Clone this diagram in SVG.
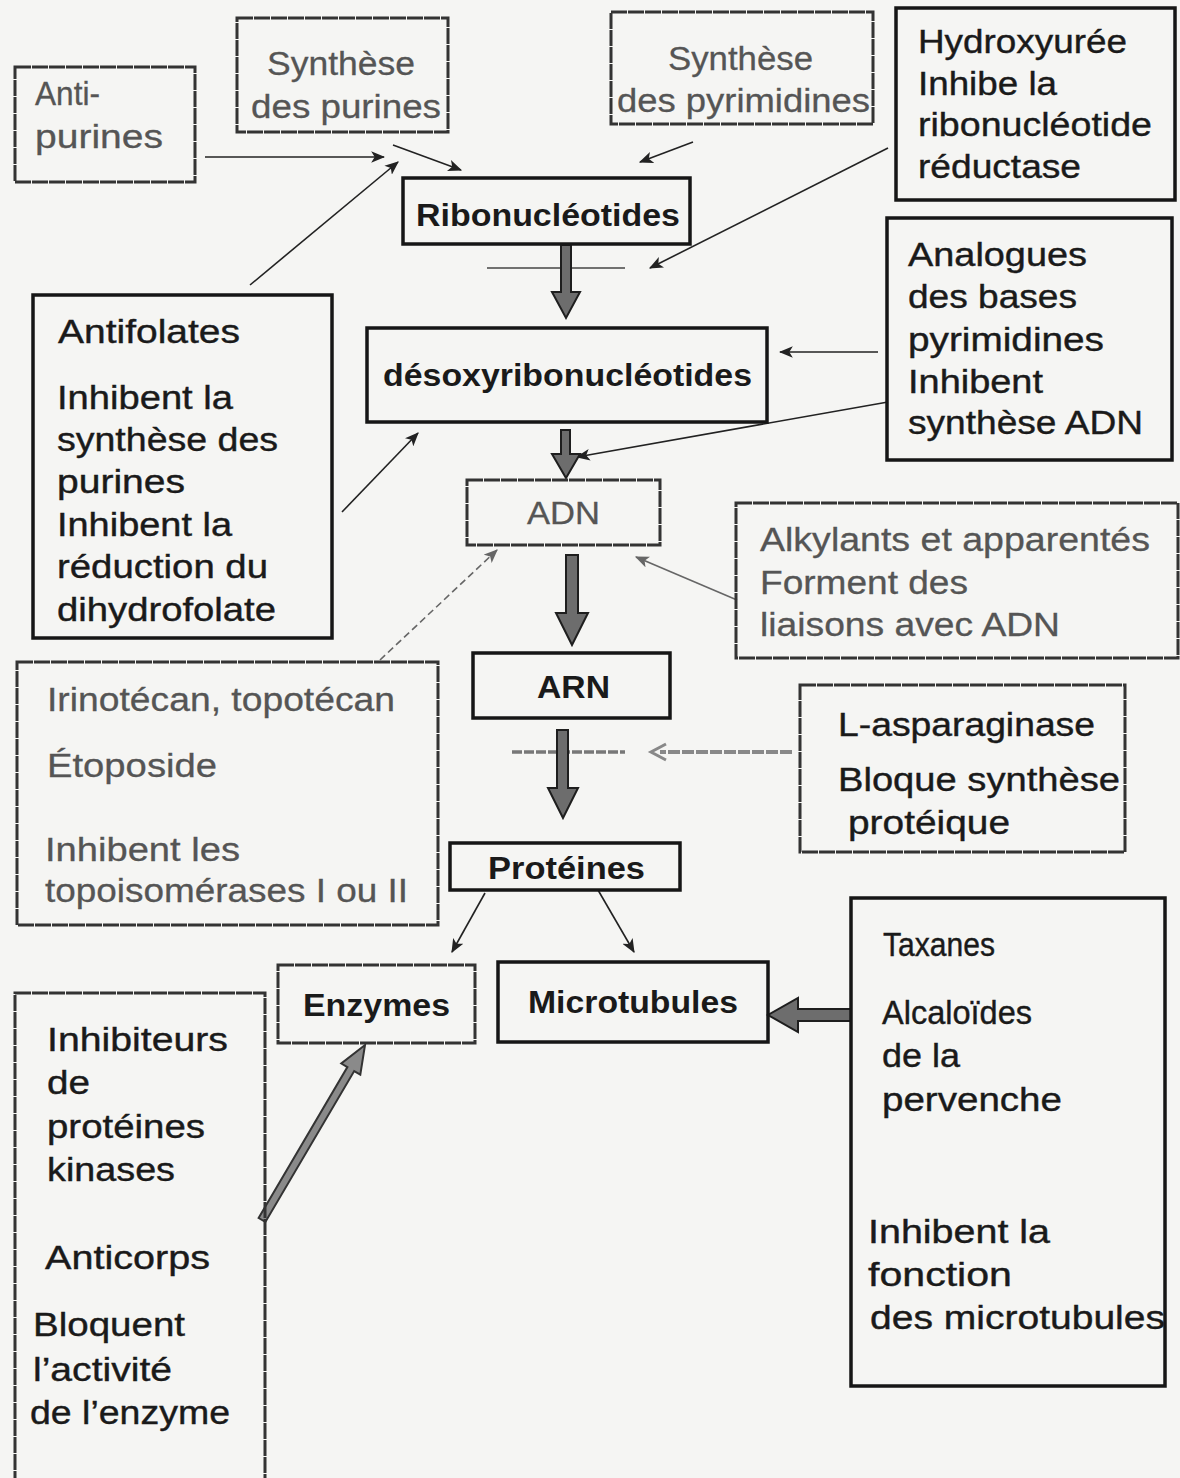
<svg xmlns="http://www.w3.org/2000/svg" width="1180" height="1478" viewBox="0 0 1180 1478">
<defs>
<marker id="ah" viewBox="0 0 12 10" refX="11" refY="5" markerWidth="14" markerHeight="12" markerUnits="userSpaceOnUse" orient="auto"><path d="M0,0 L12,5 L0,10 L3,5 z" fill="#222"/></marker>
<marker id="ahg" viewBox="0 0 12 10" refX="11" refY="5" markerWidth="14" markerHeight="12" markerUnits="userSpaceOnUse" orient="auto"><path d="M0,0 L12,5 L0,10 L3,5 z" fill="#666"/></marker>
<style>
.bd{fill:none;stroke:#161616;stroke-width:3.5}
.bg{fill:none;stroke:#333;stroke-width:3;stroke-dasharray:16 1}
text{font-family:"Liberation Sans",Arial,sans-serif;}
.t{font-size:33px;fill:#1a1a1a;stroke:#1a1a1a;stroke-width:0.4}
.tg{font-size:33px;fill:#555;stroke:#555;stroke-width:0.3}
.tb{font-size:31px;font-weight:bold;fill:#1a1a1a}
.tn{font-size:31px;fill:#555;stroke:#555;stroke-width:0.3}
.thin{fill:none;stroke:#222;stroke-width:1.6}
.thing{fill:none;stroke:#666;stroke-width:1.6}
.big{fill:#6d6d6d;stroke:#1e1e1e;stroke-width:2}
</style>
</defs>
<rect x="0" y="0" width="1180" height="1478" fill="#f5f5f3"/>

<g id="connectors">
<line class="thin" x1="205" y1="157" x2="384" y2="157" marker-end="url(#ah)"/>
<line class="thin" x1="393" y1="145" x2="461" y2="170" marker-end="url(#ah)"/>
<line class="thin" x1="693" y1="142" x2="640" y2="162" marker-end="url(#ah)"/>
<line class="thin" x1="250" y1="285" x2="398" y2="162" marker-end="url(#ah)"/>
<line class="thin" x1="888" y1="148" x2="650" y2="268" marker-end="url(#ah)"/>
<line x1="487" y1="268" x2="625" y2="268" stroke="#444" stroke-width="1.6"/>
<polygon class="big" points="561,245 571,245 571,292 580,292 566,318 552,292 561,292"/>
<line class="thin" x1="878" y1="352" x2="780" y2="352" marker-end="url(#ah)"/>
<line class="thin" x1="888" y1="402" x2="577" y2="457" marker-end="url(#ah)"/>
<polygon class="big" points="561,430 570,430 570,454 580,454 566,478 552,454 561,454"/>
<line class="thin" x1="342" y1="512" x2="418" y2="433" marker-end="url(#ah)"/>
<polygon class="big" points="566,555 578,555 578,613 588,613 572,645 556,613 566,613"/>
<line class="thing" x1="737" y1="600" x2="636" y2="557" marker-end="url(#ahg)"/>
<line class="thing" x1="380" y1="660" x2="497" y2="550" stroke-dasharray="7 4" marker-end="url(#ahg)"/>
<line x1="512" y1="752" x2="625" y2="752" stroke="#777" stroke-width="3.5" stroke-dasharray="10 2"/>
<polygon class="big" points="557,730 568,730 568,788 578,788 563,818 548,788 557,788"/>
<line x1="792" y1="752" x2="660" y2="752" stroke="#888" stroke-width="4" stroke-dasharray="12 2"/>
<path d="M666,744 L651,752 L666,760" fill="none" stroke="#888" stroke-width="3"/>
<line class="thin" x1="485" y1="893" x2="452" y2="952" marker-end="url(#ah)"/>
<line class="thin" x1="598" y1="890" x2="634" y2="952" marker-end="url(#ah)"/>
<polygon class="big" points="851,1009 798,1009 798,998 768,1015 798,1032 798,1021 851,1021"/>
<polygon points="258.6,1218 347.4,1067.1 341.3,1063.5 365,1045 360.3,1074.7 354.2,1071.1 265.4,1222" fill="#8a8a8a" stroke="#333" stroke-width="2"/>
</g>

<g id="antipurines">
<rect class="bg" x="15" y="67" width="180" height="115"/>
<text class="tg" x="35" y="105" textLength="65" lengthAdjust="spacingAndGlyphs">Anti-</text>
<text class="tg" x="35" y="148" textLength="128" lengthAdjust="spacingAndGlyphs">purines</text>
</g>

<g id="synthese-purines">
<rect class="bg" x="237" y="18" width="211" height="114"/>
<text class="tg" x="267" y="75" textLength="148" lengthAdjust="spacingAndGlyphs">Synthèse</text>
<text class="tg" x="251" y="118" textLength="190" lengthAdjust="spacingAndGlyphs">des purines</text>
</g>

<g id="synthese-pyrimidines">
<rect class="bg" x="611" y="12" width="262" height="112"/>
<text class="tg" x="668" y="70" textLength="145" lengthAdjust="spacingAndGlyphs">Synthèse</text>
<text class="tg" x="617" y="112" textLength="253" lengthAdjust="spacingAndGlyphs">des pyrimidines</text>
</g>

<g id="hydroxyuree">
<rect class="bd" x="896" y="8" width="279" height="192"/>
<text class="t" x="918" y="53" textLength="209" lengthAdjust="spacingAndGlyphs">Hydroxyurée</text>
<text class="t" x="918" y="95" textLength="139" lengthAdjust="spacingAndGlyphs">Inhibe la</text>
<text class="t" x="918" y="136" textLength="234" lengthAdjust="spacingAndGlyphs">ribonucléotide</text>
<text class="t" x="918" y="178" textLength="163" lengthAdjust="spacingAndGlyphs">réductase</text>
</g>

<g id="ribonucleotides">
<rect class="bd" x="403" y="178" width="287" height="66"/>
<text class="tb" x="416" y="226" textLength="264" lengthAdjust="spacingAndGlyphs">Ribonucléotides</text>
</g>

<g id="analogues">
<rect class="bd" x="887" y="218" width="285" height="242"/>
<text class="t" x="908" y="266" textLength="179" lengthAdjust="spacingAndGlyphs">Analogues</text>
<text class="t" x="908" y="308" textLength="169" lengthAdjust="spacingAndGlyphs">des bases</text>
<text class="t" x="908" y="351" textLength="196" lengthAdjust="spacingAndGlyphs">pyrimidines</text>
<text class="t" x="908" y="393" textLength="135" lengthAdjust="spacingAndGlyphs">Inhibent</text>
<text class="t" x="908" y="434" textLength="235" lengthAdjust="spacingAndGlyphs">synthèse ADN</text>
</g>

<g id="antifolates">
<rect class="bd" x="33" y="295" width="299" height="343"/>
<text class="t" x="58" y="343" textLength="182" lengthAdjust="spacingAndGlyphs">Antifolates</text>
<text class="t" x="57" y="409" textLength="176" lengthAdjust="spacingAndGlyphs">Inhibent la</text>
<text class="t" x="57" y="451" textLength="221" lengthAdjust="spacingAndGlyphs">synthèse des</text>
<text class="t" x="57" y="493" textLength="128" lengthAdjust="spacingAndGlyphs">purines</text>
<text class="t" x="57" y="536" textLength="175" lengthAdjust="spacingAndGlyphs">Inhibent la</text>
<text class="t" x="57" y="578" textLength="211" lengthAdjust="spacingAndGlyphs">réduction du</text>
<text class="t" x="57" y="621" textLength="219" lengthAdjust="spacingAndGlyphs">dihydrofolate</text>
</g>

<g id="desoxyribonucleotides">
<rect class="bd" x="367" y="328" width="400" height="94"/>
<text class="tb" x="383" y="386" textLength="369" lengthAdjust="spacingAndGlyphs">désoxyribonucléotides</text>
</g>

<g id="adn">
<rect class="bg" x="467" y="480" width="193" height="65"/>
<text class="tn" x="527" y="524" textLength="73" lengthAdjust="spacingAndGlyphs">ADN</text>
</g>

<g id="alkylants">
<rect class="bg" x="736" y="503" width="442" height="155"/>
<text class="tg" x="760" y="551" textLength="390" lengthAdjust="spacingAndGlyphs">Alkylants et apparentés</text>
<text class="tg" x="760" y="594" textLength="208" lengthAdjust="spacingAndGlyphs">Forment des</text>
<text class="tg" x="760" y="636" textLength="300" lengthAdjust="spacingAndGlyphs">liaisons avec ADN</text>
</g>

<g id="irinotecan">
<rect class="bg" x="17" y="662" width="421" height="263"/>
<text class="tg" x="47" y="711" textLength="348" lengthAdjust="spacingAndGlyphs">Irinotécan, topotécan</text>
<text class="tg" x="47" y="777" textLength="170" lengthAdjust="spacingAndGlyphs">Étoposide</text>
<text class="tg" x="45" y="861" textLength="195" lengthAdjust="spacingAndGlyphs">Inhibent les</text>
<text class="tg" x="45" y="902" textLength="363" lengthAdjust="spacingAndGlyphs">topoisomérases I ou II</text>
</g>

<g id="arn">
<rect class="bd" x="473" y="653" width="197" height="65"/>
<text class="tb" x="537" y="698" textLength="73" lengthAdjust="spacingAndGlyphs">ARN</text>
</g>

<g id="asparaginase">
<rect class="bg" x="800" y="685" width="325" height="167"/>
<text class="t" x="838" y="736" textLength="257" lengthAdjust="spacingAndGlyphs">L-asparaginase</text>
<text class="t" x="838" y="791" textLength="282" lengthAdjust="spacingAndGlyphs">Bloque synthèse</text>
<text class="t" x="848" y="834" textLength="162" lengthAdjust="spacingAndGlyphs">protéique</text>
</g>

<g id="proteines">
<rect class="bd" x="450" y="843" width="230" height="47"/>
<text class="tb" x="488" y="879" textLength="157" lengthAdjust="spacingAndGlyphs">Protéines</text>
</g>

<g id="enzymes">
<rect class="bg" x="278" y="965" width="197" height="78"/>
<text class="tb" x="303" y="1016" textLength="147" lengthAdjust="spacingAndGlyphs">Enzymes</text>
</g>

<g id="microtubules">
<rect class="bd" x="498" y="962" width="270" height="80"/>
<text class="tb" x="528" y="1013" textLength="210" lengthAdjust="spacingAndGlyphs">Microtubules</text>
</g>

<g id="taxanes">
<rect class="bd" x="851" y="898" width="314" height="488"/>
<text class="t" x="883" y="956" textLength="112" lengthAdjust="spacingAndGlyphs">Taxanes</text>
<text class="t" x="882" y="1024" textLength="150" lengthAdjust="spacingAndGlyphs">Alcaloïdes</text>
<text class="t" x="882" y="1067" textLength="78" lengthAdjust="spacingAndGlyphs">de la</text>
<text class="t" x="882" y="1111" textLength="180" lengthAdjust="spacingAndGlyphs">pervenche</text>
<text class="t" x="868" y="1243" textLength="182" lengthAdjust="spacingAndGlyphs">Inhibent la</text>
<text class="t" x="868" y="1286" textLength="144" lengthAdjust="spacingAndGlyphs">fonction</text>
<text class="t" x="870" y="1329" textLength="295" lengthAdjust="spacingAndGlyphs">des microtubules</text>
</g>

<g id="inhibiteurs">
<rect class="bg" x="15" y="993" width="250" height="490"/>
<text class="t" x="47" y="1051" textLength="181" lengthAdjust="spacingAndGlyphs">Inhibiteurs</text>
<text class="t" x="47" y="1094" textLength="43" lengthAdjust="spacingAndGlyphs">de</text>
<text class="t" x="47" y="1138" textLength="158" lengthAdjust="spacingAndGlyphs">protéines</text>
<text class="t" x="47" y="1181" textLength="128" lengthAdjust="spacingAndGlyphs">kinases</text>
<text class="t" x="45" y="1269" textLength="165" lengthAdjust="spacingAndGlyphs">Anticorps</text>
<text class="t" x="33" y="1336" textLength="152" lengthAdjust="spacingAndGlyphs">Bloquent</text>
<text class="t" x="33" y="1381" textLength="139" lengthAdjust="spacingAndGlyphs">l’activité</text>
<text class="t" x="30" y="1424" textLength="200" lengthAdjust="spacingAndGlyphs">de l’enzyme</text>
</g>
</svg>
